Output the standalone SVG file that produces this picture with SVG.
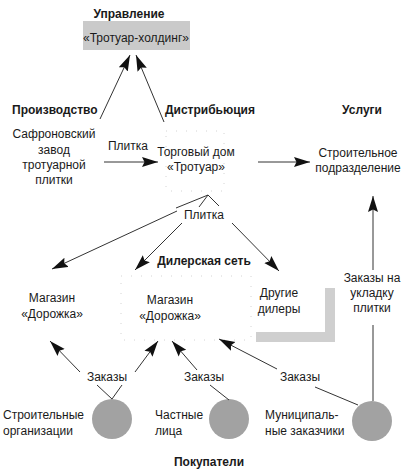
<svg xmlns="http://www.w3.org/2000/svg" width="410" height="470" viewBox="0 0 410 470">
<style>
text{font-family:"Liberation Sans",Arial,sans-serif;font-size:12px;fill:#1a1a1a}
.b{font-weight:bold}
.m{text-anchor:middle}
.ln{stroke:#333;stroke-width:1;fill:none}
.ar{stroke:#333;stroke-width:1;fill:none;marker-end:url(#ah)}
.frame{fill:none;stroke:#d4d4d4;stroke-width:1;stroke-dasharray:1 9}
</style>
<defs>
<marker id="ah" markerUnits="userSpaceOnUse" markerWidth="18" markerHeight="11" refX="16" refY="5.5" orient="auto">
<path d="M0,0.5 L16,5.5 L0,10.5 L2.5,5.5 z" fill="#111"/>
</marker>
</defs>
<rect width="410" height="470" fill="#fff"/>

<g id="headers">
<text class="b m" x="129" y="18">Управление</text>
<text class="b" x="12" y="114">Производство</text>
<text class="b m" x="210" y="114">Дистрибьюция</text>
<text class="b m" x="362" y="114">Услуги</text>
<text class="b m" x="204" y="265">Дилерская сеть</text>
<text class="b m" x="209" y="466">Покупатели</text>
</g>

<g id="holding">
<rect x="83" y="21" width="107" height="29" fill="#cacaca"/>
<text class="m" x="136" y="42">«Тротуар-холдинг»</text>
</g>

<g id="factory">
<text class="m" x="54" y="138">Сафроновский</text>
<text class="m" x="54" y="154">завод</text>
<text class="m" x="54" y="169">тротуарной</text>
<text class="m" x="54" y="184">плитки</text>
</g>

<g id="tradehouse">
<rect class="frame" x="166" y="131" width="58" height="60"/>
<text class="m" x="196" y="156">Торговый дом</text>
<text class="m" x="196" y="171">«Тротуар»</text>
</g>

<g id="construction">
<text class="m" x="358" y="157">Строительное</text>
<text class="m" x="358" y="172">подразделение</text>
</g>

<g id="tile">
<text class="m" x="204" y="219">Плитка</text>
</g>

<g id="shop1">
<text class="m" x="52" y="302">Магазин</text>
<text class="m" x="52" y="318">«Дорожка»</text>
</g>

<g id="shop2">
<rect class="frame" x="121" y="276" width="130" height="64"/>
<text class="m" x="170" y="304">Магазин</text>
<text class="m" x="170" y="320">«Дорожка»</text>
</g>

<g id="dealers">
<text class="m" x="279" y="297">Другие</text>
<text class="m" x="279" y="313">дилеры</text>
<path d="M325,288 H335 V342 H256 V332 H325 Z" fill="#cfcfcf"/>
</g>

<g id="builders">
<circle cx="112" cy="419" r="20" fill="#a2a2a2"/>
<text x="3" y="419">Строительные</text>
<text x="3" y="435">организации</text>
</g>

<g id="private">
<circle cx="229" cy="419" r="20" fill="#a2a2a2"/>
<text x="155" y="419">Частные</text>
<text x="155" y="435">лица</text>
</g>

<g id="municipal">
<circle cx="372" cy="421" r="20" fill="#a2a2a2"/>
<text x="265" y="419">Муниципаль-</text>
<text x="265" y="435">ные заказчики</text>
</g>

<g id="connectors">
<line class="ar" x1="100" y1="119" x2="130" y2="55"/>
<line class="ar" x1="164" y1="122" x2="136" y2="55"/>
<text class="m" x="128" y="150">Плитка</text>
<line class="ar" x1="104" y1="162" x2="158" y2="162"/>
<line class="ar" x1="258" y1="162" x2="310" y2="162"/>
<line class="ln" x1="208" y1="195" x2="176" y2="208"/>
<line class="ln" x1="208" y1="195" x2="199" y2="207"/>
<line class="ln" x1="208" y1="195" x2="219" y2="206"/>
<line class="ar" x1="177" y1="211" x2="52" y2="269"/>
<line class="ar" x1="182" y1="223" x2="135" y2="270"/>
<line class="ar" x1="232" y1="223" x2="279" y2="271"/>
<line class="ar" x1="373" y1="270" x2="373" y2="196"/>
<line class="ln" x1="373" y1="325" x2="373" y2="401"/>
<text class="m" x="372" y="282">Заказы на</text>
<text class="m" x="372" y="297">укладку</text>
<text class="m" x="372" y="312">плитки</text>
<text class="m" x="107" y="381">Заказы</text>
<text class="m" x="204" y="381">Заказы</text>
<text class="m" x="300" y="381">Заказы</text>
<line class="ln" x1="112" y1="399" x2="97" y2="385"/>
<line class="ln" x1="112" y1="399" x2="122" y2="385"/>
<line class="ln" x1="229" y1="400" x2="210" y2="385"/>
<line class="ln" x1="358" y1="405" x2="315" y2="387"/>
<line class="ar" x1="80" y1="372" x2="50" y2="341"/>
<line class="ar" x1="135" y1="372" x2="158" y2="341"/>
<line class="ar" x1="197" y1="370" x2="172" y2="341"/>
<line class="ar" x1="277" y1="369" x2="219" y2="339"/>
</g>
</svg>
